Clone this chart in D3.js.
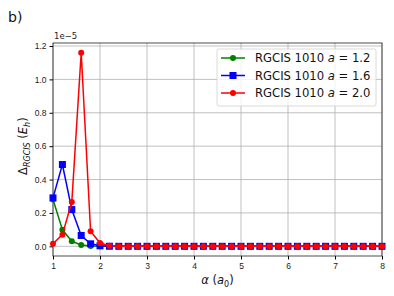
<!DOCTYPE html>
<html>
<head>
<meta charset="utf-8">
<script src="https://cdn.jsdelivr.net/npm/d3@7"></script>
<style>
  body { margin: 0; background: white; }
  svg { font-family: "DejaVu Sans", sans-serif; }
  .axis text { font-size: 8.5px; fill: #222; }
</style>
</head>
<body>
<div id="chart"></div>
<script>
// alpha values (a0), step 0.2 from 1 to 8
var alphas = d3.range(0, 36).map(i => +(1 + i * 0.2).toFixed(1));

// Delta_RGCIS values in units of 1e-5 Eh
var green12 = [0.28, 0.10, 0.03, 0.008, 0.002, 0.0005].concat(d3.range(30).map(() => 0));
var blue16 = [0.29, 0.49, 0.22, 0.065, 0.015, 0.003, 0.0005].concat(d3.range(29).map(() => 0));
var red20 = [0.015, 0.07, 0.265, 1.16, 0.09, 0.02, 0.003].concat(d3.range(29).map(() => 0));

var xTicks = [1, 2, 3, 4, 5, 6, 7, 8];
var yTicks = [0.0, 0.2, 0.4, 0.6, 0.8, 1.0, 1.2];

var series = [
    {label: "1.2", values: green12, color: "#008000", marker: "circle"},
    {label: "1.6", values: blue16, color: "#0000ff", marker: "square"},
    {label: "2.0", values: red20, color: "#ff0000", marker: "circle"}
];

var margin = {top: 43, right: 12, bottom: 40, left: 53};
var width = 394 - margin.left - margin.right;
var height = 296 - margin.top - margin.bottom;

var svgRoot = d3.select("#chart").append("svg")
    .attr("width", 394)
    .attr("height", 296);

var svg = svgRoot.append("g")
    .attr("transform", "translate(" + margin.left + "," + margin.top + ")");

var x = d3.scaleLinear().domain([1, 8]).range([0, width]);
var y = d3.scaleLinear().domain([-0.058, 1.218]).range([height, 0]);

// grid
svg.append("g").selectAll("line.gx")
    .data(xTicks).enter().append("line")
    .attr("x1", d => x(d)).attr("x2", d => x(d))
    .attr("y1", 0).attr("y2", height)
    .attr("stroke", "#b0b0b0").attr("stroke-width", 0.8);
svg.append("g").selectAll("line.gy")
    .data(yTicks).enter().append("line")
    .attr("x1", 0).attr("x2", width)
    .attr("y1", d => y(d)).attr("y2", d => y(d))
    .attr("stroke", "#b0b0b0").attr("stroke-width", 0.8);

// axes
svg.append("g")
    .attr("class", "x axis")
    .attr("transform", "translate(0," + height + ")")
    .call(d3.axisBottom(x).tickValues(xTicks).tickFormat(d3.format("d")).tickSize(3.5).tickPadding(3))
    .call(g => g.select(".domain").remove());

svg.append("g")
    .attr("class", "y axis")
    .call(d3.axisLeft(y).tickValues(yTicks).tickFormat(d3.format(".1f")).tickSize(3.5).tickPadding(3))
    .call(g => g.select(".domain").remove());

svg.append("rect")
    .attr("width", width).attr("height", height)
    .attr("fill", "none").attr("stroke", "#222").attr("stroke-width", 0.8);

var line = d3.line()
    .x((d, i) => x(alphas[i]))
    .y(d => y(d));

series.forEach(function(s){
    svg.append("path")
        .datum(s.values)
        .attr("d", line)
        .attr("fill", "none")
        .attr("stroke", s.color)
        .attr("stroke-width", 1.5);

    if(s.marker === "circle"){
        svg.append("g").selectAll("circle")
            .data(s.values).enter().append("circle")
            .attr("cx", (d, i) => x(alphas[i]))
            .attr("cy", d => y(d))
            .attr("r", 3)
            .attr("fill", s.color);
    } else {
        svg.append("g").selectAll("rect")
            .data(s.values).enter().append("rect")
            .attr("x", (d, i) => x(alphas[i]) - 3.5)
            .attr("y", d => y(d) - 3.5)
            .attr("width", 7).attr("height", 7)
            .attr("fill", s.color);
    }
});

// legend
var legend = svg.append("g")
    .attr("transform", "translate(" + (217 - margin.left) + "," + (49 - margin.top) + ")");

legend.append("rect")
    .attr("width", 159).attr("height", 57)
    .attr("rx", 2)
    .attr("fill", "white").attr("fill-opacity", 0.8)
    .attr("stroke", "#d0d0d0").attr("stroke-width", 0.8);

series.forEach(function(s, i){
    var ly = 9 + i * 17.5;
    legend.append("line")
        .attr("x1", 4).attr("x2", 28)
        .attr("y1", ly).attr("y2", ly)
        .attr("stroke", s.color).attr("stroke-width", 1.5);
    if(s.marker === "circle"){
        legend.append("circle").attr("cx", 16).attr("cy", ly).attr("r", 3).attr("fill", s.color);
    } else {
        legend.append("rect").attr("x", 12.5).attr("y", ly - 3.5).attr("width", 7).attr("height", 7).attr("fill", s.color);
    }
    var t = legend.append("text")
        .attr("x", 38).attr("y", ly + 4)
        .style("font-size", "11.6px").style("fill", "#111");
    t.append("tspan").text("RGCIS 1010 ");
    t.append("tspan").style("font-style", "italic").text("a");
    t.append("tspan").text(" = " + s.label);
});

// labels
svgRoot.append("text")
    .attr("x", 8).attr("y", 22)
    .style("font-size", "14px").style("fill", "#111")
    .text("b)");

svgRoot.append("text")
    .attr("x", margin.left + 1).attr("y", margin.top - 4)
    .style("font-size", "8.5px").style("fill", "#222")
    .text("1e\u22125");

var xl = svgRoot.append("text")
    .attr("x", margin.left + width / 2).attr("y", 284)
    .attr("text-anchor", "middle")
    .style("font-size", "11.5px").style("fill", "#111");
xl.append("tspan").style("font-style", "italic").text("\u03b1");
xl.append("tspan").text(" (");
xl.append("tspan").style("font-style", "italic").text("a");
xl.append("tspan").attr("dy", 2.5).style("font-size", "8px").text("0");
xl.append("tspan").attr("dy", -2.5).text(")");

var yl = svgRoot.append("text")
    .attr("transform", "translate(27," + (margin.top + y(0.6)) + ") rotate(-90)")
    .attr("text-anchor", "middle")
    .style("font-size", "11.5px").style("fill", "#111");
yl.append("tspan").text("\u0394");
yl.append("tspan").attr("dy", 2.5).style("font-size", "8px").style("font-style", "italic").text("RGCIS");
yl.append("tspan").attr("dy", -2.5).text(" (");
yl.append("tspan").style("font-style", "italic").text("E");
yl.append("tspan").attr("dy", 2.5).style("font-size", "8px").style("font-style", "italic").text("h");
yl.append("tspan").attr("dy", -2.5).text(")");
</script>
</body>
</html>
